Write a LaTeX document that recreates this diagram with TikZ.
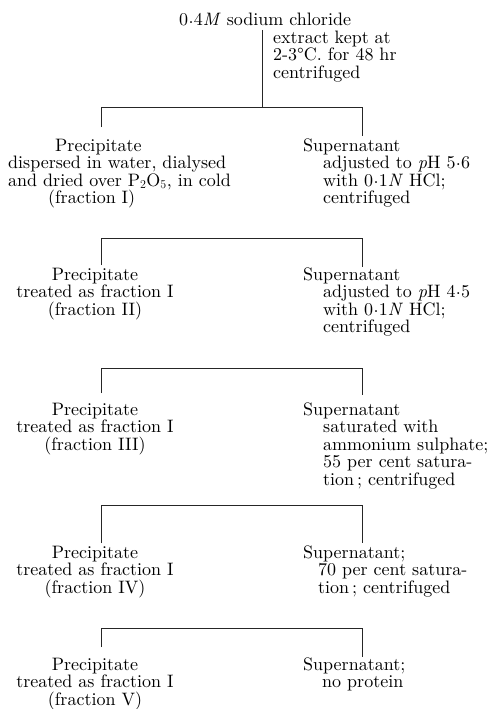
\documentclass[tikz,border=0pt]{standalone}
\usepackage{fontspec}
\setmainfont{lmroman10-regular}[Extension=.otf, ItalicFont=lmroman10-italic, BoldFont=lmroman10-bold]
\newcommand{\cdt}{\kern0.3pt\raisebox{0.33ex}{.}\kern0.3pt}
\newcommand{\blkL}[1]{\vtop{\lineskiplimit=-30pt\lineskip=0pt\halign{##\hfil\cr#1\crcr}}}
\newcommand{\blkC}[1]{\vtop{\lineskiplimit=-30pt\lineskip=0pt\halign{\hfil##\hfil\cr#1\crcr}}}
\tikzset{
  lbl/.style={inner sep=0pt, anchor=base west, font=\fontsize{18}{17.5}\selectfont},
  lblc/.style={inner sep=0pt, anchor=base, font=\fontsize{18}{17.5}\selectfont},
  conn/.style={line width=0.8pt, black!85},
}
\begin{document}
\begin{tikzpicture}[x=1pt,y=-1pt]
\useasboundingbox[fill=white] (0,0) rectangle (489,709);

% top
\node[lbl] (src) at (179,26) {0\cdt4\textit{M} sodium chloride};
\node[lbl] (note) at (273,43.5) {\blkL{extract kept at\cr 2-3°C. for 48 hr\cr centrifuged}};
\coordinate (t0) at (262,30);
\coordinate (h1) at (262,107);

% level 1
\node[lbl] (p1) at (8,151) {\blkL{\hskip47pt Precipitate\cr dispersed in water, dialysed\cr and dried over P$_2$O$_5$, in cold\cr \hskip40pt (fraction I)}};
\node[lbl] (s1) at (303,151) {\blkL{Supernatant\cr \hskip20pt adjusted to \textit{p}H 5\cdt6\cr \hskip20pt with 0\cdt1\textit{N} HCl;\cr \hskip20pt centrifuged}};
\coordinate (p1t) at (101,127);
\coordinate (s1t) at (362,136);

% level 2
\coordinate (h2) at (262,238);
\node[lblc] (p2) at (95,280) {\blkC{Precipitate\cr treated as fraction I\cr (fraction II)}};
\node[lbl] (s2) at (303,280) {\blkL{Supernatant\cr \hskip20pt adjusted to \textit{p}H 4\cdt5\cr \hskip20pt with 0\cdt1\textit{N} HCl;\cr \hskip20pt centrifuged}};
\coordinate (p2t) at (101,265);
\coordinate (s2t) at (362,267);

% level 3
\coordinate (h3) at (262,368);
\node[lblc] (p3) at (95,415) {\blkC{Precipitate\cr treated as fraction I\cr (fraction III)}};
\node[lbl] (s3) at (303,415) {\blkL{Supernatant\cr \hskip20pt saturated with\cr \hskip20pt ammonium sulphate;\cr \hskip20pt 55 per cent satura-\cr \hskip20pt tion\,; centrifuged}};
\coordinate (p3t) at (101,393);
\coordinate (s3t) at (362,395);

% level 4
\coordinate (h4) at (262,505);
\node[lblc] (p4) at (95,558) {\blkC{Precipitate\cr treated as fraction I\cr (fraction IV)}};
\node[lbl] (s4) at (303,558) {\blkL{Supernatant;\cr \hskip15pt 70 per cent satura-\cr \hskip15pt tion\,; centrifuged}};
\coordinate (p4t) at (101,543);
\coordinate (s4t) at (362,543);

% level 5
\coordinate (h5) at (262,628);
\node[lblc] (p5) at (95,670) {\blkC{Precipitate\cr treated as fraction I\cr (fraction V)}};
\node[lbl] (s5) at (303,670) {\blkL{Supernatant;\cr \hskip19pt no protein}};
\coordinate (p5t) at (101,647);
\coordinate (s5t) at (362,657);

% connectors
\draw[conn] (t0) -- (h1);
\draw[conn] (p1t) -- (p1t|-h1) -- (s1t|-h1) -- (s1t);
\draw[conn] (p2t) -- (p2t|-h2) -- (s2t|-h2) -- (s2t);
\draw[conn] (p3t) -- (p3t|-h3) -- (s3t|-h3) -- (s3t);
\draw[conn] (p4t) -- (p4t|-h4) -- (s4t|-h4) -- (s4t);
\draw[conn] (p5t) -- (p5t|-h5) -- (s5t|-h5) -- (s5t);
\end{tikzpicture}
\end{document}
